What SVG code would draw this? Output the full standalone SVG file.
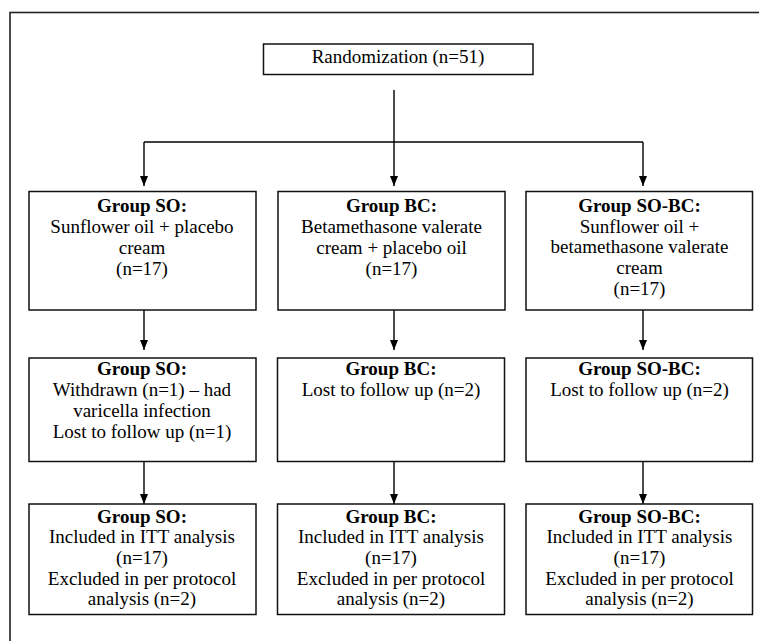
<svg xmlns="http://www.w3.org/2000/svg" width="759" height="641" viewBox="0 0 759 641">
<style>
.box{fill:#fff;stroke:#111;stroke-width:1.5}
.frame{fill:none;stroke:#222;stroke-width:1.6}
.ln{fill:none;stroke:#000;stroke-width:1.4}
text{font-family:"Liberation Serif","Times New Roman",serif;font-size:19px;fill:#000;text-anchor:middle}
.b{font-weight:bold}
</style>
<defs>
<marker id="ah" markerWidth="10" markerHeight="8" refX="10" refY="4" orient="auto" markerUnits="userSpaceOnUse" viewBox="0 0 10 8">
<path d="M0,0 L10,4 L0,8 Z" fill="#000"/>
</marker>
</defs>
<rect width="759" height="641" fill="#fff"/>
<rect class="frame" x="10" y="12.5" width="780" height="660"/>
<g id="connectors">
<line class="ln" x1="394" y1="90" x2="394" y2="142"/>
<line class="ln" x1="144" y1="142" x2="643" y2="142"/>
<path class="ln" d="M144,142 V186" marker-end="url(#ah)"/>
<path class="ln" d="M394,142 V186" marker-end="url(#ah)"/>
<path class="ln" d="M643,142 V186" marker-end="url(#ah)"/>
<path class="ln" d="M144,310 V350" marker-end="url(#ah)"/>
<path class="ln" d="M394,310 V350" marker-end="url(#ah)"/>
<path class="ln" d="M643,310 V350" marker-end="url(#ah)"/>
<path class="ln" d="M144,462 V504" marker-end="url(#ah)"/>
<path class="ln" d="M394,462 V504" marker-end="url(#ah)"/>
<path class="ln" d="M643,462 V504" marker-end="url(#ah)"/>
</g>
<g id="randomization">
<rect class="box" x="263.5" y="44" width="269.5" height="30.5"/>
<text x="398" y="63">Randomization (n=51)</text>
</g>
<g id="so1">
<rect class="box" x="29" y="191.5" width="227" height="118.5"/>
<text x="142" y="212" class="b">Group SO:</text>
<text x="142" y="233">Sunflower oil + placebo</text>
<text x="142" y="254">cream</text>
<text x="142" y="275">(n=17)</text>
</g>
<g id="bc1">
<rect class="box" x="278" y="191.5" width="227" height="118.5"/>
<text x="391.5" y="212" class="b">Group BC:</text>
<text x="391.5" y="233">Betamethasone valerate</text>
<text x="391.5" y="254">cream + placebo oil</text>
<text x="391.5" y="275">(n=17)</text>
</g>
<g id="sobc1">
<rect class="box" x="526" y="191.5" width="226.5" height="118.5"/>
<text x="639.5" y="212" class="b">Group SO-BC:</text>
<text x="639.5" y="232.7">Sunflower oil +</text>
<text x="639.5" y="253.4">betamethasone valerate</text>
<text x="639.5" y="274.1">cream</text>
<text x="639.5" y="294.8">(n=17)</text>
</g>
<g id="so2">
<rect class="box" x="29" y="358" width="227" height="103.5"/>
<text x="142" y="374.5" class="b">Group SO:</text>
<text x="142" y="395.5">Withdrawn (n=1) – had</text>
<text x="142" y="416.5">varicella infection</text>
<text x="142" y="437.5">Lost to follow up (n=1)</text>
</g>
<g id="bc2">
<rect class="box" x="277.5" y="358" width="227" height="103.5"/>
<text x="391" y="374.5" class="b">Group BC:</text>
<text x="391" y="395.5">Lost to follow up (n=2)</text>
</g>
<g id="sobc2">
<rect class="box" x="526" y="358" width="226.5" height="103.5"/>
<text x="639.5" y="374.5" class="b">Group SO-BC:</text>
<text x="639.5" y="395.5">Lost to follow up (n=2)</text>
</g>
<g id="so3">
<rect class="box" x="29" y="504" width="227" height="110.5"/>
<text x="142" y="522.5" class="b">Group SO:</text>
<text x="142" y="543.2">Included in ITT analysis</text>
<text x="142" y="563.9">(n=17)</text>
<text x="142" y="584.6">Excluded in per protocol</text>
<text x="142" y="605.3">analysis (n=2)</text>
</g>
<g id="bc3">
<rect class="box" x="277.5" y="504" width="227" height="110.5"/>
<text x="391" y="522.5" class="b">Group BC:</text>
<text x="391" y="543.2">Included in ITT analysis</text>
<text x="391" y="563.9">(n=17)</text>
<text x="391" y="584.6">Excluded in per protocol</text>
<text x="391" y="605.3">analysis (n=2)</text>
</g>
<g id="sobc3">
<rect class="box" x="526" y="504" width="226.5" height="110.5"/>
<text x="639.5" y="522.5" class="b">Group SO-BC:</text>
<text x="639.5" y="543.2">Included in ITT analysis</text>
<text x="639.5" y="563.9">(n=17)</text>
<text x="639.5" y="584.6">Excluded in per protocol</text>
<text x="639.5" y="605.3">analysis (n=2)</text>
</g>
</svg>
